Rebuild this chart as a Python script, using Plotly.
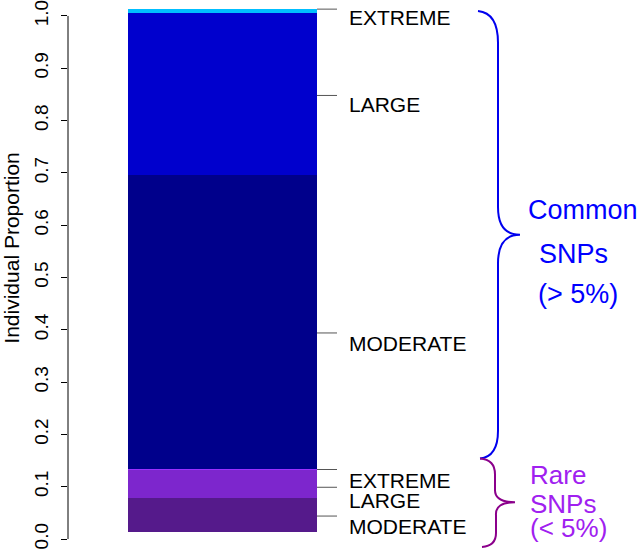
import plotly.graph_objects as go

# ---------------- data ----------------
segments = ["offset", "Rare MODERATE", "Rare LARGE", "Rare EXTREME",
            "Common MODERATE", "Common LARGE", "Common EXTREME"]
proportions = [0.0133, 0.0646, 0.0551, 0.0010, 0.5617, 0.3099, 0.0076]
seg_colors = ["rgba(0,0,0,0)", "#551A8B", "#7D26CD", "#9B30FF",
              "#00008B", "#0000CD", "#00BFFF"]
label_text = ["MODERATE", "LARGE", "EXTREME", "MODERATE", "LARGE", "EXTREME"]
label_y = [0.044, 0.099, 0.133, 0.394, 0.848, 1.013]
y_ticks = [i / 10 for i in range(11)]

# ---------------- geometry helpers (layout only) ----------------
W, H = 639, 555
L_M, R_M, T_M, B_M = 68, 0, 3, 3
PX_PER_X = 189.0
BAR_LEFT_PX = 128
X0 = -0.5 - (BAR_LEFT_PX - L_M) / PX_PER_X
X1 = X0 + (W - L_M - R_M) / PX_PER_X
Y_ZERO_PX, PX_PER_Y = 539, 526.0
Y1 = (Y_ZERO_PX - T_M) / PX_PER_Y
Y0 = Y1 - (H - T_M - B_M) / PX_PER_Y

# pixel rows of the label texts (layout)
LABEL_TEXT_PY = [526, 500, 480, 342.5, 102, 14.5]


def X(px):
    return -0.5 + (px - BAR_LEFT_PX) / PX_PER_X


def Y(py):
    return (Y_ZERO_PX - py) / PX_PER_Y


def PXP(px):
    return (px - L_M) / (W - L_M - R_M)


FONT = "Liberation Sans, Arial, Helvetica, sans-serif"

fig = go.Figure()
for name, val, col in zip(segments, proportions, seg_colors):
    fig.add_trace(go.Bar(x=[0], y=[val], name=name, width=1,
                         marker=dict(color=col, line=dict(width=0)),
                         showlegend=False, hoverinfo="skip"))

shapes = []
annotations = []

# y axis line from 0 to 1
shapes.append(dict(type="line", xref="paper", yref="y", x0=0, x1=0,
                   y0=0, y1=1, line=dict(color="black", width=1)))

# label ticks and texts
for txt, ly, tpy in zip(label_text, label_y, LABEL_TEXT_PY):
    shapes.append(dict(type="line", xref="x", yref="y", x0=0.5, x1=X(337),
                       y0=ly, y1=ly, line=dict(color="#555555", width=1)))
    annotations.append(dict(x=PXP(347), y=Y(tpy), xref="paper", yref="y", text=txt,
                            showarrow=False, xanchor="left", yanchor="middle",
                            font=dict(family=FONT, size=21, color="black")))


def P(px, py):
    return f"{X(px):.5f},{Y(py):.5f}"


common_brace = (f"M {P(478,8)} Q {P(498,10)} {P(498,40)} L {P(498,205)} "
                f"Q {P(498,233)} {P(520,233)} Q {P(498,233)} {P(498,262)} "
                f"L {P(498,430)} Q {P(498,456)} {P(480,458)}")
rare_brace = (f"M {P(480,458)} Q {P(495,459)} {P(495,474)} L {P(495,490)} "
              f"Q {P(495,502)} {P(515,502)} Q {P(495,502)} {P(496,515)} "
              f"L {P(496,533)} Q {P(496,546)} {P(482,547)}")
shapes.append(dict(type="path", xref="x", yref="y", path=common_brace,
                   line=dict(color="#0000EE", width=2)))
shapes.append(dict(type="path", xref="x", yref="y", path=rare_brace,
                   line=dict(color="#8B008B", width=2)))

for txt, lx, ly in [("Common", 526, 208), ("SNPs", 537, 252), ("(&gt; 5%)", 536, 293)]:
    annotations.append(dict(x=PXP(lx), y=Y(ly), xref="paper", yref="y", text=txt,
                            showarrow=False, xanchor="left", yanchor="middle",
                            font=dict(family=FONT, size=27, color="#0000FF")))
for txt, lx, ly in [("Rare", 528, 475), ("SNPs", 528, 504), ("(&lt; 5%)", 528, 528)]:
    annotations.append(dict(x=PXP(lx), y=Y(ly), xref="paper", yref="y", text=txt,
                            showarrow=False, xanchor="left", yanchor="middle",
                            font=dict(family=FONT, size=26, color="#A020F0")))

# y-axis title
annotations.append(dict(x=PXP(12), y=Y(247), xref="paper", yref="y",
                        text="Individual Proportion", textangle=-90,
                        showarrow=False, xanchor="center", yanchor="middle",
                        font=dict(family=FONT, size=21, color="black")))

fig.update_layout(
    width=W, height=H,
    margin=dict(l=L_M, r=R_M, t=T_M, b=B_M, pad=0),
    paper_bgcolor="white", plot_bgcolor="white",
    barmode="stack", bargap=0,
    xaxis=dict(range=[X0, X1], visible=False, fixedrange=True),
    yaxis=dict(range=[Y0, Y1], tickvals=y_ticks, tickformat=".1f",
               ticks="outside", ticklen=6, tickcolor="black", tickwidth=1,
               tickangle=-90, showgrid=False, zeroline=False, showline=False,
               ticklabeloverflow="allow", ticklabelstandoff=5,
               tickfont=dict(family=FONT, size=19, color="black"),
               fixedrange=True),
    shapes=shapes, annotations=annotations,
)

fig.write_html("out.html", config={"displayModeBar": False},
               post_script="document.body.style.margin='0';")
